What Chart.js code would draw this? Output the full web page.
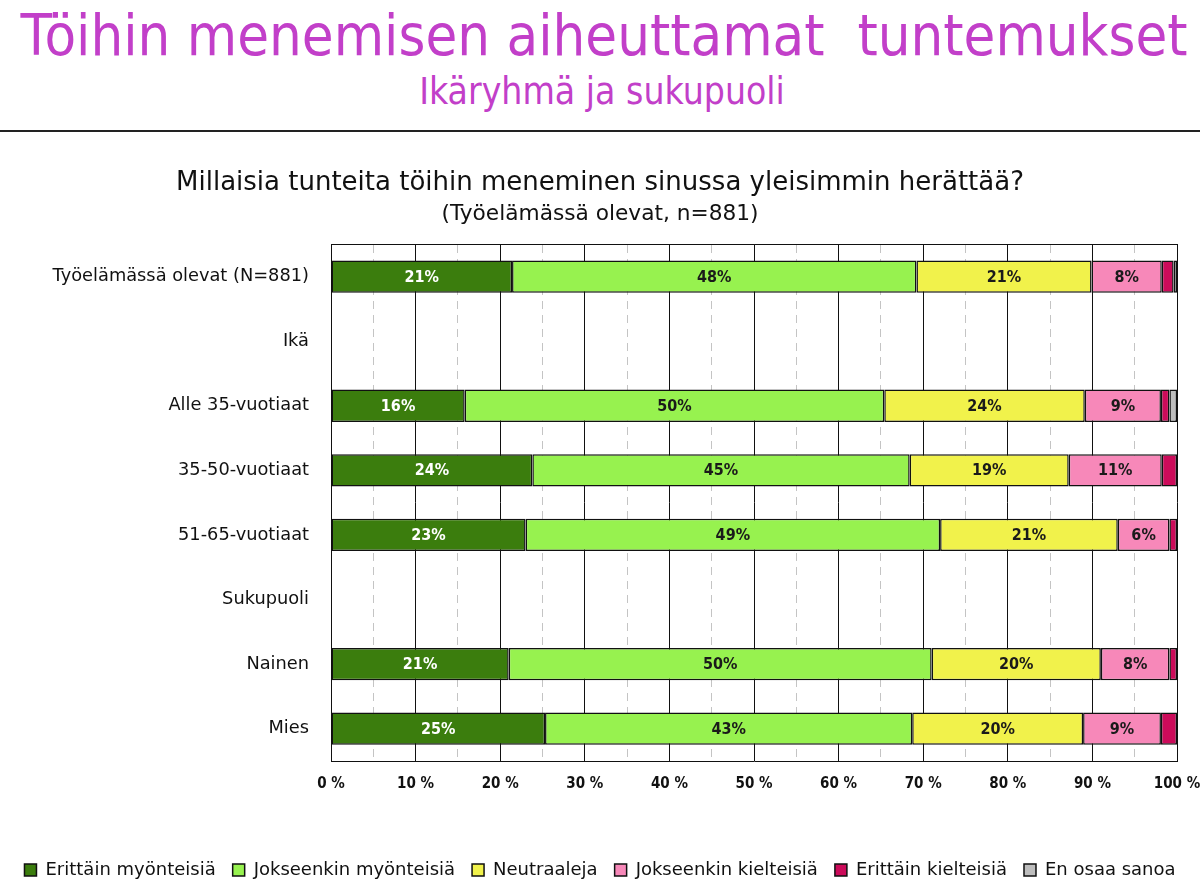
<!DOCTYPE html>
<html>
<head>
<meta charset="utf-8">
<script src="https://cdn.jsdelivr.net/npm/chart.js@4/dist/chart.umd.min.js"></script>
<style>
  html, body { margin: 0; padding: 0; background: #fff; }
  body { width: 1200px; height: 886px; overflow: hidden; position: relative; font-family: "DejaVu Sans Condensed", "DejaVu Sans", sans-serif; }
  #otsikko { position: absolute; left: 0; top: 3px; width: 1200px; text-align: center; color: #c23fc9; font-size: 57.5px; line-height: 66px; white-space: pre; padding-left: 4px; }
  #alaotsikko { position: absolute; left: 0; top: 70px; width: 1200px; text-align: center; color: #c23fc9; font-size: 37px; line-height: 44px; padding-left: 2px; }
  #viiva { position: absolute; left: 0; top: 130px; width: 1200px; height: 2px; background: #222; }
  #kaavio { position: absolute; left: 0; top: 132px; width: 1200px; height: 757px; }
</style>
</head>
<body>
<div id="otsikko">Töihin menemisen aiheuttamat  tuntemukset</div>
<div id="alaotsikko">Ikäryhmä ja sukupuoli</div>
<div id="viiva"></div>
<div id="kaavio"><canvas id="graafi"></canvas></div>
<script>
const ryhmat = ["Työelämässä olevat (N=881)", "Ikä", "Alle 35-vuotiaat", "35-50-vuotiaat", "51-65-vuotiaat", "Sukupuoli", "Nainen", "Mies"];

const erittainMyonteisia   = [21.4, null, 15.8, 23.8, 23.0, null, 21.0, 25.3];
const jokseenkinMyonteisia = [47.8, null, 49.6, 44.6, 49.0, null, 50.0, 43.4];
const neutraaleja          = [20.7, null, 23.7, 18.8, 21.0, null, 20.0, 20.2];
const jokseenkinKielteisia = [8.3,  null, 9.0,  11.0, 6.1,  null, 8.1,  9.2];
const erittainKielteisia   = [1.4,  null, 1.0,  1.8,  0.9,  null, 0.9,  1.9];
const enOsaaSanoa          = [0.4,  null, 0.9,  0.0,  0.0,  null, 0.0,  0.0];

const sarjat = [
    { nimi: "Erittäin myönteisiä",   arvot: erittainMyonteisia,   vari: "#3b7d0d", teksti: "#ffffff" },
    { nimi: "Jokseenkin myönteisiä", arvot: jokseenkinMyonteisia, vari: "#97f24f", teksti: "#1a1a1a" },
    { nimi: "Neutraaleja",           arvot: neutraaleja,          vari: "#f1f24b", teksti: "#1a1a1a" },
    { nimi: "Jokseenkin kielteisiä", arvot: jokseenkinKielteisia, vari: "#f788b9", teksti: "#1a1a1a" },
    { nimi: "Erittäin kielteisiä",   arvot: erittainKielteisia,   vari: "#cc0b5a", teksti: "#ffffff" },
    { nimi: "En osaa sanoa",         arvot: enOsaaSanoa,          vari: "#bdbdbd", teksti: "#1a1a1a" }
];

const kapea = "'DejaVu Sans Condensed', 'DejaVu Sans', sans-serif";
const levea = "'DejaVu Sans', sans-serif";

// prosenttiluvut palkkien keskelle
const arvoTekstit = {
    id: "arvoTekstit",
    afterDatasetsDraw(chart) {
        const ctx = chart.ctx;
        ctx.save();
        ctx.font = "bold 16px " + kapea;
        ctx.textAlign = "center";
        ctx.textBaseline = "middle";
        chart.data.datasets.forEach((ds, i) => {
            const meta = chart.getDatasetMeta(i);
            meta.data.forEach((palkki, j) => {
                const v = ds.data[j];
                if (v == null || v < 4) return;
                const p = palkki.getProps(["x", "y", "base"], true);
                ctx.fillStyle = sarjat[i].teksti;
                ctx.fillText(Math.round(v) + "%", (p.x + p.base) / 2, p.y + 1);
            });
        });
        ctx.restore();
    }
};

new Chart(document.getElementById("graafi"), {
    type: "bar",
    data: {
        labels: ryhmat,
        datasets: sarjat.map(s => ({
            label: s.nimi,
            data: s.arvot,
            backgroundColor: s.vari,
            borderColor: "#111111",
            borderWidth: 1.5,
            borderSkipped: false,
            categoryPercentage: 1,
            barPercentage: 0.5
        }))
    },
    options: {
        indexAxis: "y",
        responsive: true,
        maintainAspectRatio: false,
        animation: false,
        layout: { padding: 0 },
        plugins: {
            title: {
                display: true,
                text: "Millaisia tunteita töihin meneminen sinussa yleisimmin herättää?",
                color: "#111",
                font: { family: levea, size: 26, weight: "normal" },
                padding: { top: 36, bottom: 2 }
            },
            subtitle: {
                display: true,
                text: "(Työelämässä olevat, n=881)",
                color: "#111",
                font: { family: levea, size: 21.7, weight: "normal" },
                padding: { top: 0, bottom: 17 }
            },
            legend: {
                position: "bottom",
                labels: {
                    color: "#111",
                    font: { family: levea, size: 18 },
                    boxWidth: 12,
                    boxHeight: 12,
                    padding: 17
                }
            },
            tooltip: { enabled: false }
        },
        scales: {
            x: {
                stacked: true,
                min: 0,
                max: 100,
                ticks: {
                    stepSize: 10,
                    maxRotation: 0,
                    color: "#111",
                    font: { family: kapea, size: 15, weight: "bold" },
                    callback: v => v + " %",
                    padding: 14
                },
                grid: { color: "#111", lineWidth: 1, drawTicks: false },
                border: { color: "#111", width: 1 },
                afterFit: s => { s.height = 83; s.paddingLeft = 0; s.paddingRight = 23; }
            },
            x2: {
                position: "top",
                min: 0,
                max: 100,
                ticks: { display: false, stepSize: 5 },
                grid: {
                    drawTicks: false,
                    lineWidth: 1,
                    color: c => (c.tick && c.tick.value % 10 === 5) ? "#c4c4c4" : "rgba(0,0,0,0)"
                },
                border: { display: true, color: "#111", width: 1, dash: [8, 6] },
                afterFit: s => { s.paddingLeft = 0; s.paddingRight = 23; }
            },
            y: {
                stacked: true,
                ticks: {
                    color: "#111",
                    font: { family: levea, size: 17.8 },
                    padding: 14
                },
                grid: { display: false },
                border: { color: "#111", width: 1 },
                afterFit: s => { s.width = 331; }
            }
        }
    },
    plugins: [arvoTekstit]
});
</script>
</body>
</html>
